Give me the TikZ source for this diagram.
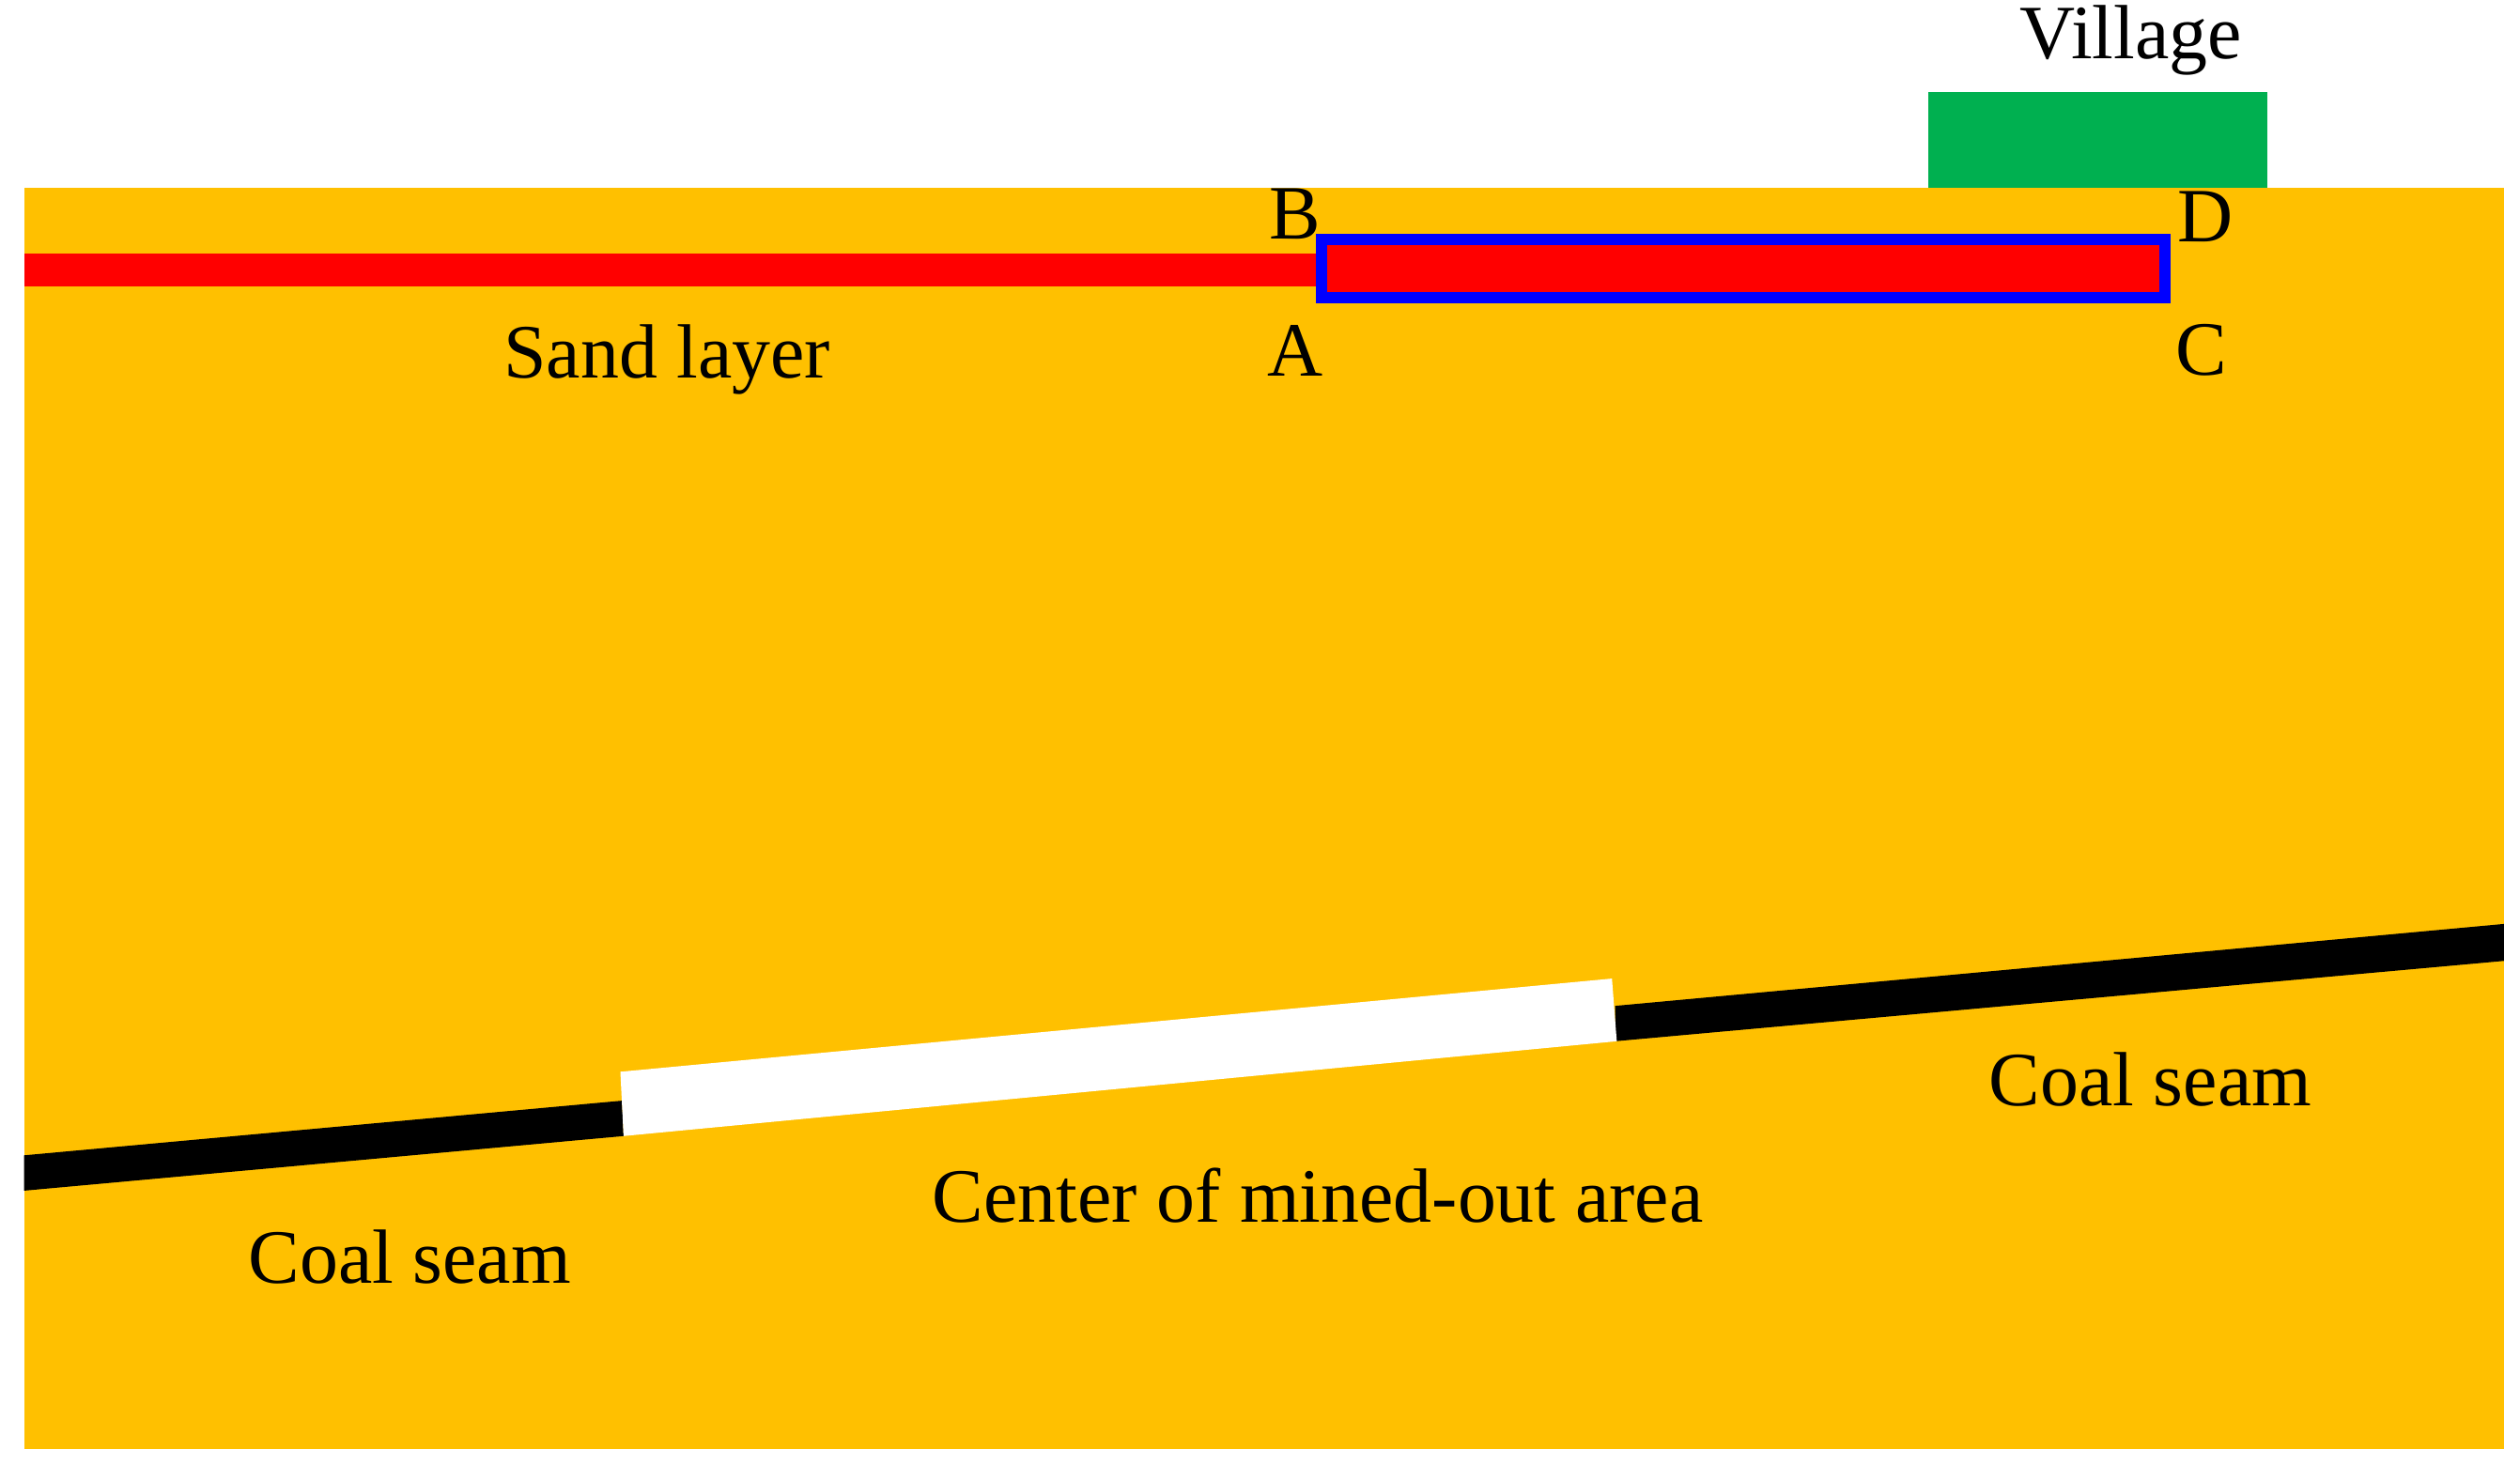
\documentclass[tikz,border=0pt]{standalone}
\usepackage{fontspec}
\setmainfont{Liberation Serif}
\definecolor{rock}{HTML}{FFC000}
\definecolor{vil}{HTML}{00B050}
\begin{document}
\begin{tikzpicture}[x=0.01cm,y=-0.01cm,
  lbl/.style={font=\fontsize{13.6pt}{15pt}\selectfont,inner sep=0pt}]
\useasboundingbox (0,0) rectangle (1568,911);
\fill[rock] (15,117) rectangle (1558,902);
\fill[vil] (1200,57) rectangle (1411,117);
\fill[red] (15,158) rectangle (822,178);
\draw[blue,line width=2pt,fill=red] (822,149) rectangle (1347,185);
\node[lbl] (B) at (806,133) {B};
\node[lbl] (D) at (1372,135) {D};
\node[lbl] (A) at (806,218) {A};
\node[lbl] (C) at (1370,218) {C};
\node[lbl] (sand) at (415,224) {Sand layer};
\node[lbl] (vl) at (1326,25) {Village};
\fill[black] (15,719) -- (387,685) -- (388,707) -- (15,741) -- cycle;
\fill[black] (1005,626) -- (1558,575) -- (1558,598) -- (1005,648) -- cycle;
\fill[white] (386,667) -- (1003,609) -- (1006,648) -- (388,707) -- cycle;
\node[lbl] (cs1) at (1338,672) {Coal seam};
\node[lbl] (ctr) at (820,744) {Center of mined-out area};
\node[lbl] (cs2) at (255,782) {Coal seam};
\end{tikzpicture}
\end{document}
